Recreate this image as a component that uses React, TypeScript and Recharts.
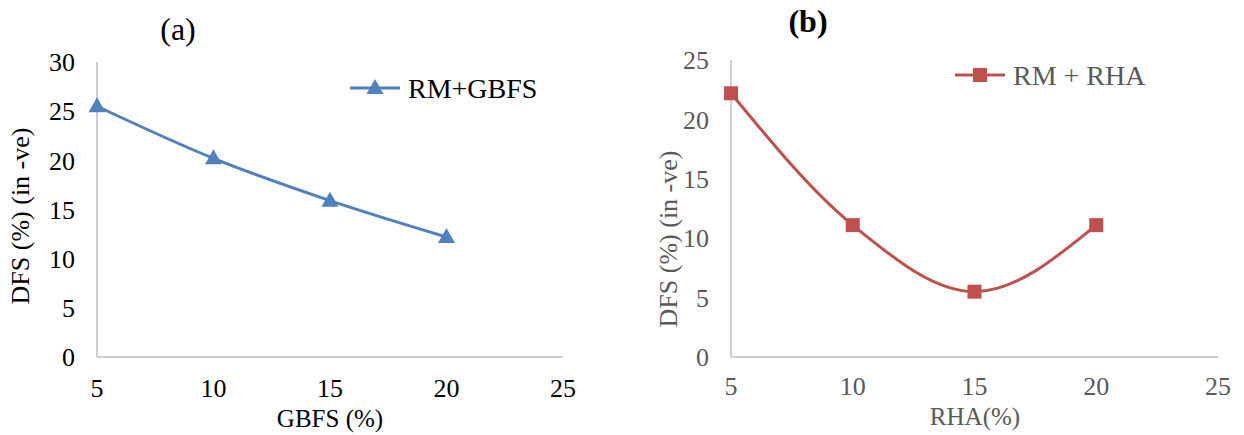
import React from 'react';
import { LineChart, Line, XAxis, YAxis, Legend } from 'recharts';

const xTicks = [5, 10, 15, 20, 25];
const gbfsPct = [5, 10, 15, 20];
const dfsGbfs = [25.5, 20.2, 15.9, 12.2];
const rhaPct = [5, 10, 15, 20];
const dfsRha = [22.2, 11.1, 5.5, 11.1];
const yTicksA = [0, 5, 10, 15, 20, 25, 30];
const yTicksB = [0, 5, 10, 15, 20, 25];

const dataA = gbfsPct.map((x, i) => ({ x, y: dfsGbfs[i] }));
const dataB = rhaPct.map((x, i) => ({ x, y: dfsRha[i] }));

const FONT = '"Liberation Serif", "Times New Roman", serif';
const BLUE = '#4f81bd';
const RED = '#c0504d';
const AXIS = '#bfbfbf';

const Triangle = (props: any) => {
  const { cx, cy } = props;
  if (cx == null || cy == null) return null;
  return <polygon points={`${cx},${cy - 9} ${cx - 8.5},${cy + 6} ${cx + 8.5},${cy + 6}`} fill={BLUE} />;
};

const Square = (props: any) => {
  const { cx, cy } = props;
  if (cx == null || cy == null) return null;
  return <rect x={cx - 7} y={cy - 7} width={14} height={14} fill={RED} />;
};

const makeLegend = (color: string, marker: 'tri' | 'sq', textColor: string) => (props: any) => {
  const name = props.payload && props.payload[0] ? props.payload[0].value : '';
  return (
    <svg width={230} height={30} style={{ overflow: 'visible', display: 'block' }}>
      <line x1={0} y1={15} x2={50} y2={15} stroke={color} strokeWidth={3} />
      {marker === 'tri' ? (
        <polygon points={`25,6 16.5,21 33.5,21`} fill={color} />
      ) : (
        <rect x={18} y={8} width={14} height={14} fill={color} />
      )}
      <text x={58} y={15} dominantBaseline="central" fontFamily={FONT} fontSize={28} fill={textColor}>
        {name}
      </text>
    </svg>
  );
};

export default function App() {
  return (
    <div style={{ position: 'absolute', left: 0, top: 0, width: 1244, height: 435, background: '#fff' }}>
      <div style={{ position: 'absolute', left: 0, top: 0 }}>
        <LineChart width={620} height={435} data={dataA} margin={{ top: 62, right: 57, bottom: 48, left: 0 }}>
          <XAxis
            dataKey="x"
            type="number"
            domain={[5, 25]}
            ticks={xTicks}
            tickLine={false}
            tickSize={0}
            tickMargin={22}
            height={30}
            axisLine={{ stroke: AXIS, strokeWidth: 1.5 }}
            tick={{ fill: '#000', fontSize: 26, fontFamily: FONT }}
          />
          <YAxis
            type="number"
            domain={[0, 30]}
            ticks={yTicksA}
            width={97}
            tickLine={false}
            tickSize={0}
            tickMargin={22}
            axisLine={{ stroke: AXIS, strokeWidth: 1.5 }}
            tick={{ fill: '#000', fontSize: 26, fontFamily: FONT }}
          />
          <Legend
            layout="horizontal"
            verticalAlign="middle"
            align="center"
            content={makeLegend(BLUE, 'tri', '#000')}
            wrapperStyle={{ position: 'absolute', left: 350, top: 73, width: 230, height: 30 }}
          />
          <Line
            dataKey="y"
            name="RM+GBFS"
            type="monotone"
            stroke={BLUE}
            strokeWidth={3}
            dot={<Triangle />}
            activeDot={false}
            isAnimationActive={false}
          />
        </LineChart>
      </div>
      <div style={{ position: 'absolute', left: 620, top: 0 }}>
        <LineChart width={624} height={435} data={dataB} margin={{ top: 60, right: 26, bottom: 48, left: 0 }}>
          <XAxis
            dataKey="x"
            type="number"
            domain={[5, 25]}
            ticks={xTicks}
            tickLine={false}
            tickSize={0}
            tickMargin={20}
            height={30}
            axisLine={{ stroke: AXIS, strokeWidth: 1.5 }}
            tick={{ fill: '#595959', fontSize: 26, fontFamily: FONT }}
          />
          <YAxis
            type="number"
            domain={[0, 25]}
            ticks={yTicksB}
            width={111}
            tickLine={false}
            tickSize={0}
            tickMargin={22}
            axisLine={{ stroke: AXIS, strokeWidth: 1.5 }}
            tick={{ fill: '#595959', fontSize: 26, fontFamily: FONT }}
          />
          <Legend
            layout="horizontal"
            verticalAlign="middle"
            align="center"
            content={makeLegend(RED, 'sq', '#595959')}
            wrapperStyle={{ position: 'absolute', left: 335, top: 60, width: 230, height: 30 }}
          />
          <Line
            dataKey="y"
            name="RM + RHA"
            type="monotone"
            stroke={RED}
            strokeWidth={3}
            dot={<Square />}
            activeDot={false}
            isAnimationActive={false}
          />
        </LineChart>
      </div>
      <svg width={1244} height={435} style={{ position: 'absolute', left: 0, top: 0, pointerEvents: 'none' }}>
        <text x={178} y={29} textAnchor="middle" dominantBaseline="central" fontFamily={FONT} fontSize={32} fill="#000">(a)</text>
        <text x={808} y={21} textAnchor="middle" dominantBaseline="central" fontFamily={FONT} fontSize={32} fontWeight="bold" fill="#000">(b)</text>
        <text x={330} y={418} textAnchor="middle" dominantBaseline="central" fontFamily={FONT} fontSize={25} fill="#000">GBFS (%)</text>
        <text x={975} y={416} textAnchor="middle" dominantBaseline="central" fontFamily={FONT} fontSize={25} fill="#595959">RHA(%)</text>
        <text x={0} y={0} textAnchor="middle" dominantBaseline="central" fontFamily={FONT} fontSize={26} fill="#000" transform="translate(20 216) rotate(-90)">DFS (%) (in -ve)</text>
        <text x={0} y={0} textAnchor="middle" dominantBaseline="central" fontFamily={FONT} fontSize={26} fill="#595959" transform="translate(668 239) rotate(-90)">DFS (%) (in -ve)</text>
      </svg>
    </div>
  );
}
